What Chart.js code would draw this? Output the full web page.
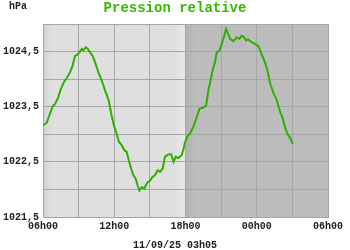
<!DOCTYPE html>
<html>
<head>
<meta charset="utf-8">
<script src="https://cdn.jsdelivr.net/npm/chart.js@4/dist/chart.umd.min.js"></script>
<style>
  body { margin: 0; background: #fff; }
</style>
</head>
<body>
<canvas id="pressChart" width="350" height="250"></canvas>
<script>
// minutes since 06h00 (11/09/25)
const minutes = [
  0, 19, 32, 49, 61, 77, 89, 106, 120, 136, 150, 162, 173, 187, 196, 204,
  216, 226, 237, 251, 263, 279, 293, 305, 313, 322, 333, 347, 360, 372, 384,
  398, 411, 423, 431, 445, 456, 468, 478, 487, 499, 512, 519, 529, 541, 552,
  566, 580, 591, 605, 616, 630, 647, 660, 670, 684, 701, 709, 717, 731, 743,
  759, 777, 790, 807, 824, 836, 847, 857, 869, 878, 891, 903, 911, 925, 936,
  945, 962, 979, 992, 1004, 1016, 1026, 1037, 1054, 1071, 1088, 1105, 1122,
  1134, 1147, 1164, 1180, 1197, 1213, 1223, 1236, 1248, 1262
];
const pressure = [
  1023.16, 1023.21, 1023.34, 1023.51, 1023.55, 1023.67, 1023.81, 1023.95, 1024.02, 1024.12, 1024.25, 1024.42, 1024.44, 1024.50, 1024.55, 1024.52,
  1024.58, 1024.55, 1024.49, 1024.42, 1024.31, 1024.13, 1024.01, 1023.89, 1023.80, 1023.72, 1023.60, 1023.33, 1023.14, 1023.01, 1022.86,
  1022.80, 1022.71, 1022.68, 1022.56, 1022.38, 1022.26, 1022.20, 1022.07, 1021.98, 1022.04, 1022.01, 1022.07, 1022.13, 1022.16, 1022.22,
  1022.26, 1022.35, 1022.32, 1022.38, 1022.59, 1022.63, 1022.64, 1022.50, 1022.59, 1022.57, 1022.62, 1022.72, 1022.85, 1022.97, 1023.01,
  1023.13, 1023.31, 1023.46, 1023.48, 1023.52, 1023.80, 1023.98, 1024.16, 1024.31, 1024.49, 1024.52, 1024.64, 1024.73, 1024.91, 1024.82,
  1024.73, 1024.69, 1024.76, 1024.73, 1024.79, 1024.76, 1024.70, 1024.72, 1024.67, 1024.64, 1024.60, 1024.45, 1024.30,
  1024.16, 1023.93, 1023.75, 1023.63, 1023.42, 1023.27, 1023.12, 1023.00, 1022.94, 1022.82
];
const xLabels = ["06h00", "12h00", "18h00", "00h00", "06h00"];
const yLabels = ["1021,5", "1022,5", "1023,5", "1024,5"];
const nightStart = 720; // 18h00

const FONT = "'Liberation Mono', 'Courier New', monospace";

// grey day / night background
const bgPlugin = {
  id: "bg",
  beforeDraw(chart) {
    const c = chart.ctx;
    const a = chart.chartArea;
    const xs = chart.scales.x;
    const xn = xs.getPixelForValue(nightStart);
    c.save();
    c.fillStyle = "#dfdfdf";
    c.fillRect(a.left, a.top, xn - a.left, a.bottom - a.top);
    let g = c.createLinearGradient(a.left, 0, a.left + 8, 0);
    g.addColorStop(0, "#d2d2d2");
    g.addColorStop(1, "#dfdfdf");
    c.fillStyle = g;
    c.fillRect(a.left, a.top, 8, a.bottom - a.top);
    g = c.createLinearGradient(xn - 12, 0, xn, 0);
    g.addColorStop(0, "#dfdfdf");
    g.addColorStop(1, "#e9e9e9");
    c.fillStyle = g;
    c.fillRect(xn - 12, a.top, 12, a.bottom - a.top);
    c.fillStyle = "#bcbcbc";
    c.fillRect(xn, a.top, a.right - xn, a.bottom - a.top);
    g = c.createLinearGradient(xn, 0, xn + 10, 0);
    g.addColorStop(0, "#b2b2b2");
    g.addColorStop(1, "#bcbcbc");
    c.fillStyle = g;
    c.fillRect(xn, a.top, 10, a.bottom - a.top);
    c.restore();
  },
  afterDraw(chart) {
    const c = chart.ctx;
    c.save();
    c.textBaseline = "alphabetic";
    c.fillStyle = "#33bb00";
    c.font = "bold 14px " + FONT;
    c.textAlign = "center";
    c.fillText("Pression relative", 175, 12);
    c.fillStyle = "#222";
    c.font = "bold 10px " + FONT;
    c.textAlign = "left";
    c.fillText("hPa", 9, 9);
    c.textAlign = "center";
    c.fillText("11/09/25 03h05", 175, 248);
    c.restore();
  },
};

const ctx = document.getElementById("pressChart");
new Chart(ctx, {
  type: "line",
  data: {
    datasets: [
      {
        label: "Pression relative",
        data: minutes.map(function (m, i) {
          return { x: m, y: pressure[i] };
        }),
        borderColor: "#2fb000",
        borderWidth: 2,
        pointRadius: 0,
        tension: 0,
        fill: false,
      },
    ],
  },
  options: {
    responsive: false,
    animation: false,
    devicePixelRatio: 1,
    layout: { padding: { top: 24, right: 22, bottom: 0, left: 0 } },
    plugins: {
      legend: { display: false },
      title: { display: false },
      tooltip: { enabled: false },
    },
    scales: {
      x: {
        type: "linear",
        min: 0,
        max: 1440,
        grid: { color: "#a6a6a6", lineWidth: 1, drawTicks: false },
        border: { color: "#a6a6a6" },
        ticks: {
          stepSize: 180,
          autoSkip: false,
          maxRotation: 0,
          padding: 3,
          color: "#222",
          font: { family: FONT, size: 10, weight: "bold" },
          callback: function (value) {
            return value % 360 === 0 ? xLabels[value / 360] : "";
          },
        },
        afterFit: function (scale) {
          scale.height = 33;
        },
      },
      y: {
        min: 1021.5,
        max: 1025,
        grid: { color: "#a6a6a6", lineWidth: 1, drawTicks: false },
        border: { color: "#a6a6a6" },
        ticks: {
          stepSize: 0.5,
          autoSkip: false,
          padding: 4,
          color: "#222",
          font: { family: FONT, size: 10, weight: "bold" },
          callback: function (value, index) {
            return index % 2 === 0 ? yLabels[index / 2] : "";
          },
        },
        afterFit: function (scale) {
          scale.width = 43;
        },
      },
    },
  },
  plugins: [bgPlugin],
});
</script>
</body>
</html>
